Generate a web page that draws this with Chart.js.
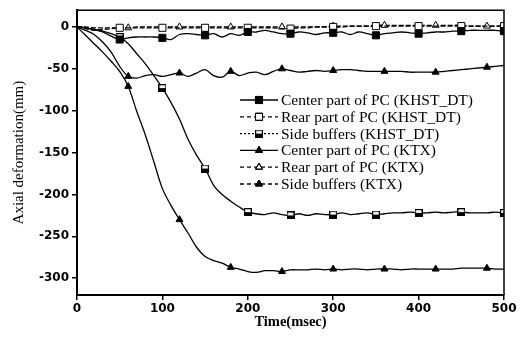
<!DOCTYPE html>
<html>
<head>
<meta charset="utf-8">
<script src="https://cdn.jsdelivr.net/npm/chart.js@4"></script>
<style>
  html, body { margin: 0; padding: 0; background: #fff; }
  #wrap { width: 523px; height: 337px; }
</style>
</head>
<body>
<div id="wrap"><canvas id="deform-chart" width="523" height="337"></canvas></div>
<script>
// time axis (msec)
const times = [0,10,20,30,40,50,60,70,80,90,100,110,120,130,140,150,160,170,180,190,200,
  210,220,230,240,250,260,270,280,290,300,310,320,330,340,350,360,370,380,390,400,
  410,420,430,440,450,460,470,480,490,500];

const centerDT = [0,-1,-3,-6,-11,-15,-13,-12,-12,-12,-13,-15,-9,-8,-9,-10,-8,-12,-8,-10,
  -6,-6,-4,-6,-8,-8,-6,-7,-9,-7,-7,-6,-9,-6,-8,-10,-8,-7,-6,-7,-8,-7,-6,-6,-5,-5,-4,-4,-4,-4,-5];
const rearDT = [0,-2,-4,-3,-2,-1,-1,-1,-1,-1,-1,-1,-1,-1,-1,-1,-1,-1,-1,-1,
  -1,-1,-1,-1,-2,-2,-1,-1,0,0,0,0,1,1,1,1,1,1,1,1,1,1,1,1,1,1,1,1,1,1,1];
const sideDT = [0,-1,-3,-5,-8,-12,-20,-32,-44,-58,-73,-90,-110,-134,-153,-169,-189,-200,-208,-215,
  -221,-223,-224,-222,-224,-225,-223,-225,-223,-224,-224,-222,-224,-223,-222,-224,-223,-222,-222,-221,
  -222,-222,-221,-222,-221,-221,-222,-222,-222,-221,-222];
const centerKTX = [0,-4,-9,-18,-30,-47,-59,-61,-58,-57,-59,-57,-55,-59,-55,-51,-58,-60,-53,-58,
  -55,-54,-57,-53,-50,-52,-54,-53,-52,-53,-52,-51,-51,-52,-53,-53,-53,-53,-53,-54,
  -54,-54,-54,-53,-52,-51,-50,-49,-48,-47,-46];
const rearKTX = [0,0,-1,-1,-1,-1,-1,0,0,0,0,0,0,0,0,0,0,0,0,0,0,0,0,0,0,0,0,0,0,0,
  1,1,1,1,1,2,2,2,2,2,2,2,2,2,2,2,1,1,1,1,1];
const sideKTX = [0,-10,-20,-30,-41,-53,-71,-101,-129,-161,-193,-213,-230,-246,-263,-274,-279,-282,-287,-289,
  -292,-293,-291,-291,-292,-290,-290,-290,-289,-290,-289,-290,-289,-289,-290,-289,-289,-289,-290,-289,
  -289,-289,-289,-289,-289,-288,-288,-288,-288,-289,-289];

const seriesNames = [
  'Center part of PC (KHST_DT)',
  'Rear part of PC (KHST_DT)',
  'Side buffers (KHST_DT)',
  'Center part of PC (KTX)',
  'Rear part of PC (KTX)',
  'Side buffers (KTX)'
];
const xTicks = [0, 100, 200, 300, 400, 500];
const yTicks = [0, -50, -100, -150, -200, -250, -300];

// half filled square marker
function halfSquare() {
  const c = document.createElement('canvas');
  c.width = 8; c.height = 8;
  const g = c.getContext('2d');
  g.fillStyle = '#fff';
  g.fillRect(0, 0, 8, 8);
  g.fillStyle = '#000';
  g.fillRect(0, 4, 8, 4);
  g.strokeStyle = '#000';
  g.lineWidth = 1.2;
  g.strokeRect(0.6, 0.6, 6.8, 6.8);
  return c;
}
const halfSq = halfSquare();

const styles = [
  { marker: 'rect', fill: '#000', r: 5, every: 5, dash: [], legendDash: [] },
  { marker: 'rect', fill: '#fff', r: 5, every: 5, dash: [5, 2], legendDash: [4, 3] },
  { marker: halfSq, fill: '#000', r: 5, every: 5, dash: [], legendDash: [2, 2] },
  { marker: 'triangle', fill: '#000', r: 4, every: 6, dash: [], legendDash: [] },
  { marker: 'triangle', fill: '#fff', r: 4, every: 6, dash: [5, 2], legendDash: [4, 3] },
  { marker: 'triangle', fill: '#000', r: 4, every: 6, dash: [], legendDash: [4, 3] }
];
const values = [centerDT, rearDT, sideDT, centerKTX, rearKTX, sideKTX];

const datasets = values.map((vals, k) => {
  const s = styles[k];
  return {
    label: seriesNames[k],
    data: vals.map((v, i) => ({ x: times[i], y: v })),
    borderColor: '#000',
    borderWidth: 1.3,
    borderDash: s.dash,
    tension: 0.35,
    pointStyle: s.marker,
    pointBackgroundColor: s.fill,
    pointBorderColor: '#000',
    pointBorderWidth: 1,
    pointRadius: ctx => (ctx.dataIndex > 0 && ctx.dataIndex % s.every === 0) ? s.r : 0,
    fill: false
  };
});

// box around the plot + legend inside
const framePlugin = {
  id: 'frame',
  afterDraw(chart) {
    const { ctx, chartArea: a } = chart;
    ctx.save();
    ctx.strokeStyle = '#000';
    ctx.lineWidth = 1.5;
    ctx.beginPath();
    ctx.moveTo(a.left, a.top);
    ctx.lineTo(a.right, a.top);
    ctx.lineTo(a.right, a.bottom);
    ctx.stroke();

    ctx.font = '15.5px "Liberation Serif"';
    ctx.fillStyle = '#000';
    ctx.textBaseline = 'middle';
    const x0 = 240, x1 = 278, tx = 281;
    seriesNames.forEach((name, k) => {
      const s = styles[k];
      const y = 100 + k * 16.8;
      ctx.setLineDash(s.legendDash);
      ctx.lineWidth = 1.3;
      ctx.beginPath();
      ctx.moveTo(x0, y);
      ctx.lineTo(x1, y);
      ctx.stroke();
      ctx.setLineDash([]);
      ctx.fillStyle = s.fill;
      ctx.lineWidth = 1;
      Chart.helpers.drawPoint(ctx, { pointStyle: s.marker, radius: s.r, rotation: 0, borderWidth: 1 }, 259, y);
      if (s.marker !== halfSq) ctx.stroke();
      ctx.fillStyle = '#000';
      ctx.fillText(name, tx, y + 1);
    });
    ctx.restore();
  }
};

new Chart(document.getElementById('deform-chart'), {
  type: 'line',
  data: { datasets: datasets },
  plugins: [framePlugin],
  options: {
    responsive: false,
    animation: false,
    layout: { padding: { top: 8, right: 19, left: 0, bottom: 0 } },
    plugins: { legend: { display: false }, tooltip: { enabled: false } },
    scales: {
      x: {
        type: 'linear',
        min: 0, max: 500,
        afterBuildTicks: s => { s.ticks = xTicks.map(v => ({ value: v })); },
        afterFit: s => { s.height = 42; },
        grid: { drawOnChartArea: false, drawTicks: true, tickLength: 5, color: '#000', lineWidth: 1.5 },
        border: { display: true, color: '#000', width: 2 },
        ticks: { color: '#000', font: { family: 'DejaVu Sans', weight: 'bold', size: 12 }, padding: 2, maxRotation: 0 },
        title: { display: true, text: 'Time(msec)', color: '#000', font: { family: 'Liberation Serif', weight: 'bold', size: 14.5 }, padding: { top: 0, bottom: 6 } }
      },
      y: {
        type: 'linear',
        min: -320, max: 20,
        afterBuildTicks: s => { s.ticks = yTicks.map(v => ({ value: v })); },
        afterFit: s => { s.width = 77; },
        grid: { drawOnChartArea: false, drawTicks: true, tickLength: 5, color: '#000', lineWidth: 1.5 },
        border: { display: true, color: '#000', width: 2 },
        ticks: { color: '#000', font: { family: 'DejaVu Sans', weight: 'bold', size: 12 }, padding: 3 },
        title: { display: true, text: 'Axial deformation(mm)', color: '#000', font: { family: 'Liberation Serif', size: 15 }, padding: { top: 10, bottom: 6 } }
      }
    }
  }
});
</script>
</body>
</html>
